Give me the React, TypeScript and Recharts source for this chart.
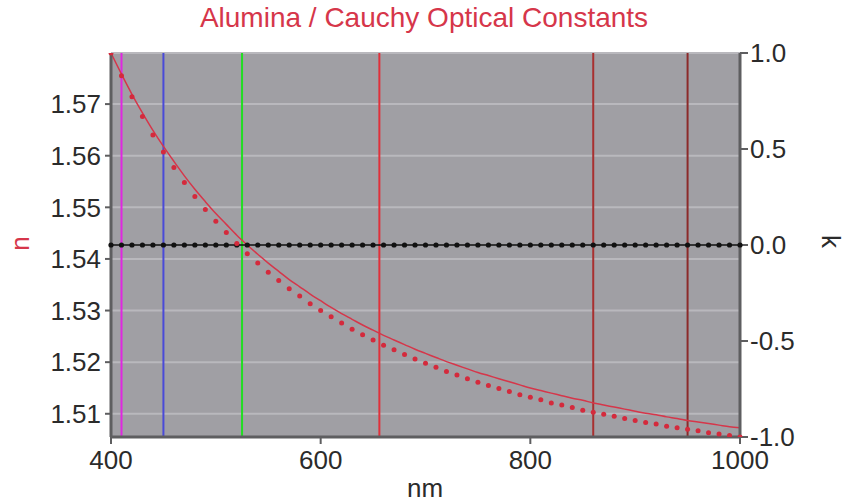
import {
  ComposedChart,
  CartesianGrid,
  Line,
  ReferenceLine,
  XAxis,
  YAxis,
} from "recharts";

// wavelength grid, nm
const wavelengths = [
  400, 410, 420, 430, 440, 450, 460, 470, 480, 490,
  500, 510, 520, 530, 540, 550, 560, 570, 580, 590,
  600, 610, 620, 630, 640, 650, 660, 670, 680, 690,
  700, 710, 720, 730, 740, 750, 760, 770, 780, 790,
  800, 810, 820, 830, 840, 850, 860, 870, 880, 890,
  900, 910, 920, 930, 940, 950, 960, 970, 980, 990,
  1000,
];

// Cauchy model n (solid line)
const nModel = [
  1.5799, 1.5758, 1.5719, 1.5683, 1.5649, 1.5618, 1.5589, 1.5561, 1.5535, 1.5511,
  1.5488, 1.5467, 1.5446, 1.5427, 1.5409, 1.5392, 1.5376, 1.5360, 1.5346, 1.5332,
  1.5319, 1.5306, 1.5294, 1.5283, 1.5272, 1.5262, 1.5252, 1.5243, 1.5234, 1.5225,
  1.5217, 1.5209, 1.5201, 1.5194, 1.5187, 1.5180, 1.5174, 1.5168, 1.5162, 1.5156,
  1.5150, 1.5145, 1.5140, 1.5135, 1.5130, 1.5126, 1.5121, 1.5117, 1.5113, 1.5109,
  1.5105, 1.5101, 1.5098, 1.5094, 1.5091, 1.5087, 1.5084, 1.5081, 1.5078, 1.5075,
  1.5073,
];

// reference n (dotted)
const nRef = [
  1.5799, 1.5755, 1.5714, 1.5676, 1.5640, 1.5607, 1.5577, 1.5548, 1.5521, 1.5496,
  1.5473, 1.5451, 1.5430, 1.5410, 1.5392, 1.5374, 1.5358, 1.5342, 1.5328, 1.5313,
  1.5300, 1.5288, 1.5276, 1.5264, 1.5253, 1.5243, 1.5233, 1.5224, 1.5215, 1.5206,
  1.5198, 1.5190, 1.5182, 1.5175, 1.5168, 1.5161, 1.5155, 1.5149, 1.5143, 1.5137,
  1.5132, 1.5127, 1.5121, 1.5117, 1.5112, 1.5107, 1.5103, 1.5099, 1.5095, 1.5091,
  1.5087, 1.5083, 1.5080, 1.5076, 1.5073, 1.5070, 1.5067, 1.5063, 1.5061, 1.5058,
  1.5055,
];

// extinction coefficient, transparent across the range
const kValues = wavelengths.map(() => 0);

// laser / marker wavelengths
const markerLines = [
  { nm: 410, color: "#e027e0" },
  { nm: 450, color: "#4a4ad8" },
  { nm: 525, color: "#22dd22" },
  { nm: 656, color: "#e0303a" },
  { nm: 860, color: "#a83030" },
  { nm: 950, color: "#8c2a2a" },
];

const xTicks = [400, 600, 800, 1000];
const nTicks = [1.51, 1.52, 1.53, 1.54, 1.55, 1.56, 1.57];
const kTicks = [-1, -0.5, 0, 0.5, 1];

const data = wavelengths.map((nm, i) => ({
  nm,
  n: nModel[i],
  nRef: nRef[i],
  k: kValues[i],
}));

const RED = "#d6364a";
const AXIS = "#5e5e60";
const FONT = "'Liberation Sans', Arial, sans-serif";
const tickStyle = { fontSize: 26, fill: "#2b2b2b", fontFamily: FONT };

export default function App() {
  return (
    <div style={{ position: "absolute", left: 0, top: 0, width: 846, height: 504, background: "#fff" }}>
      <div
        style={{
          position: "absolute",
          top: 2,
          left: 0,
          width: 848,
          textAlign: "center",
          color: RED,
          fontFamily: FONT,
          fontSize: 28,
        }}
      >
        Alumina / Cauchy Optical Constants
      </div>
      <div
        style={{
          position: "absolute",
          left: 8,
          top: 228,
          width: 24,
          textAlign: "center",
          color: RED,
          fontFamily: FONT,
          fontSize: 26,
          transform: "rotate(-90deg)",
        }}
      >
        n
      </div>
      <div
        style={{
          position: "absolute",
          left: 818,
          top: 226,
          width: 24,
          textAlign: "center",
          color: "#2b2b2b",
          fontFamily: FONT,
          fontSize: 26,
          transform: "rotate(90deg)",
        }}
      >
        k
      </div>
      <div
        style={{
          position: "absolute",
          left: 0,
          top: 473,
          width: 850,
          textAlign: "center",
          color: "#2b2b2b",
          fontFamily: FONT,
          fontSize: 26,
        }}
      >
        nm
      </div>
      <ComposedChart
        width={846}
        height={504}
        data={data}
        margin={{ top: 53, right: 0, bottom: 0, left: 0 }}
        style={{ position: "absolute", left: 0, top: 0 }}
      >
        <CartesianGrid
          yAxisId="n"
          vertical={false}
          fill="#a09fa4"
          fillOpacity={1}
          stroke="#b9b8bd"
          strokeWidth={2}
        />
        <XAxis
          dataKey="nm"
          type="number"
          domain={[400, 1000]}
          ticks={xTicks}
          height={67}
          tick={tickStyle}
          tickSize={7}
          tickMargin={7}
          tickLine={{ stroke: AXIS, strokeWidth: 2 }}
          axisLine={{ stroke: AXIS, strokeWidth: 3 }}
        />
        <XAxis
          xAxisId="top"
          dataKey="nm"
          type="number"
          orientation="top"
          domain={[400, 1000]}
          height={0}
          tick={false}
          tickLine={false}
          axisLine={{ stroke: AXIS, strokeWidth: 3 }}
        />
        <YAxis
          yAxisId="n"
          orientation="left"
          domain={[1.5055, 1.5799]}
          ticks={nTicks}
          allowDataOverflow
          width={111}
          tick={tickStyle}
          tickSize={6}
          tickMargin={4}
          tickFormatter={(v: number) => v.toFixed(2)}
          tickLine={{ stroke: AXIS, strokeWidth: 2 }}
          axisLine={{ stroke: AXIS, strokeWidth: 3 }}
        />
        <YAxis
          yAxisId="k"
          orientation="right"
          domain={[-1, 1]}
          ticks={kTicks}
          width={106}
          tick={tickStyle}
          tickSize={8}
          tickMargin={2}
          tickFormatter={(v: number) => v.toFixed(1)}
          tickLine={{ stroke: AXIS, strokeWidth: 2 }}
          axisLine={{ stroke: AXIS, strokeWidth: 3 }}
        />
        {markerLines.map((m) => (
          <ReferenceLine
            key={m.nm}
            x={m.nm}
            yAxisId="n"
            stroke={m.color}
            strokeWidth={2}
          />
        ))}
        <Line
          yAxisId="k"
          dataKey="k"
          stroke="#111"
          strokeWidth={1.5}
          dot={{ r: 2.6, fill: "#111", stroke: "none" }}
          isAnimationActive={false}
        />
        <Line
          yAxisId="n"
          dataKey="nRef"
          stroke="none"
          dot={{ r: 2.5, fill: "#d42a3c", stroke: "none" }}
          isAnimationActive={false}
        />
        <Line
          yAxisId="n"
          dataKey="n"
          type="monotone"
          stroke={RED}
          strokeWidth={1.5}
          dot={false}
          isAnimationActive={false}
        />
      </ComposedChart>
    </div>
  );
}
